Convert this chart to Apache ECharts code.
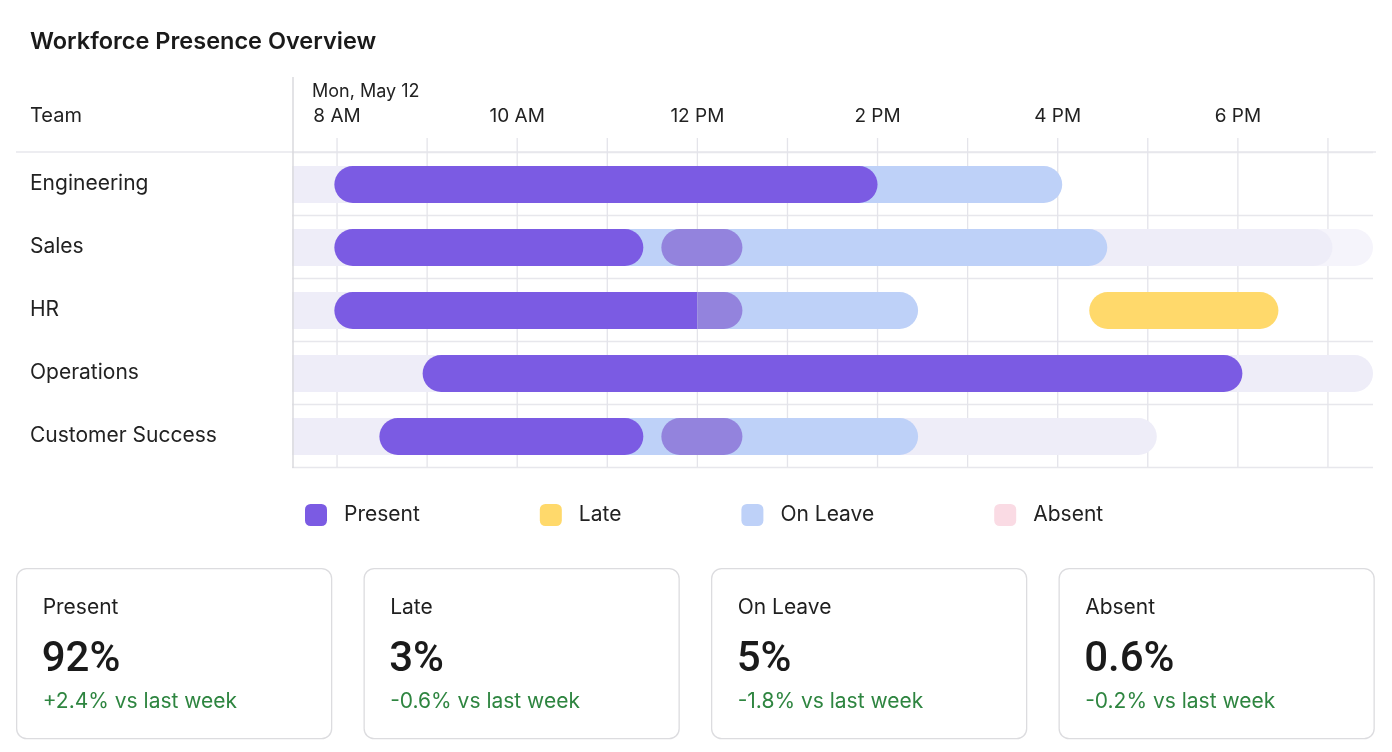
<!DOCTYPE html>
<html>
<head>
<meta charset="utf-8">
<title>Workforce Presence Overview</title>
<script src="https://cdn.jsdelivr.net/npm/echarts@6.0.0/dist/echarts.min.js"></script>
<style>
	html, body { margin: 0; padding: 0; background: #fff; }
	#main { width: 1392px; height: 752px; }
</style>
</head>
<body>
<div id="main"></div>
<script>
//团队与时间轴
var teams = ['Engineering', 'Sales', 'HR', 'Operations', 'Customer Success'];
var tickHours = [8, 10, 12, 14, 16, 18];
var tickLabels = ['8 AM', '10 AM', '12 PM', '2 PM', '4 PM', '6 PM'];
var gridHours = [8, 9, 10, 11, 12, 13, 14, 15, 16, 17, 18, 19];
var dayLabel = 'Mon, May 12';

//每条记录: [团队序号, 开始(小时), 结束(小时)]
var scheduleTail = [[1, 7.5, 19.5]];
var scheduled = [[0, 7.5, 12], [1, 7.5, 19.05], [2, 7.5, 12], [3, 7.5, 19.5], [4, 7.5, 17.1]];
var onLeave = [[0, 13, 16.05], [1, 11, 16.55], [2, 12, 14.45], [4, 11, 14.45]];
var late = [[2, 16.35, 18.45]];
var present = [[0, 7.97, 14], [1, 7.97, 11.4], [2, 7.97, 12], [3, 8.95, 18.05], [4, 8.47, 11.4]];
var overlap = [[1, 11.6, 12.5], [2, 12, 12.5], [4, 11.6, 12.5]];
var absent = [];

//底部统计卡片
var cardTitles = ['Present', 'Late', 'On Leave', 'Absent'];
var cardValues = ['92%', '3%', '5%', '0.6%'];
var cardDeltas = ['+2.4% vs last week', '-0.6% vs last week', '-1.8% vs last week', '-0.2% vs last week'];

var FONT = 'Inter, Roboto, sans-serif';
var colors = {
	present: '#7b5be3',
	late: '#ffd96b',
	leave: '#bed1f8',
	absent: '#fadbe4',
	overlap: '#9383dd',
	track: '#eeedf8',
	tail: '#f5f4fb'
};

//判断同一行里是否有相接的段
function touches(list, row, x, idx) {
	for (var i = 0; i < list.length; i++) {
		if (list[i][0] === row && Math.abs(list[i][idx] - x) < 0.001) return true;
	}
	return false;
}

//胶囊形条带
function pill(color, flatLeft, flatRight) {
	return function (params, api) {
		var row = api.value(0), s = api.value(1), e = api.value(2);
		var p0 = api.coord([s, row]), p1 = api.coord([e, row]);
		var h = 37, r = h / 2;
		var fl = flatLeft ? flatLeft(row, s) : false;
		var fr = flatRight ? flatRight(row, e) : false;
		return {
			type: 'rect',
			shape: {
				x: p0[0], y: p0[1] - h / 2 + 1, width: p1[0] - p0[0], height: h,
				r: [fl ? 0 : r, fr ? 0 : r, fr ? 0 : r, fl ? 0 : r]
			},
			style: { fill: color }
		};
	};
}

function always() { return true; }

var cardGraphics = [];
for (var i = 0; i < cardTitles.length; i++) {
	var cx = 16 + i * 347.5;
	cardGraphics.push({
		type: 'group', left: cx, top: 568,
		children: [
			{ type: 'rect', shape: { x: 0, y: 0, width: 315, height: 170, r: 10 }, style: { fill: '#fff', stroke: '#dcdcdf', lineWidth: 1.3 } },
			{ type: 'text', x: 26, y: 39, style: { text: cardTitles[i], font: '400 21px ' + FONT, fill: '#1f1f1f', verticalAlign: 'middle' } },
			{ type: 'text', x: 25, y: 92, style: { text: cardValues[i], font: '500 42px Roboto, sans-serif', fill: '#1a1a1a', verticalAlign: 'middle' } },
			{ type: 'text', x: 26, y: 133, style: { text: cardDeltas[i], font: '400 21px ' + FONT, fill: '#2e8540', verticalAlign: 'middle' } }
		]
	});
}

var myChart = echarts.init(document.getElementById('main'));
var option = {
	animation: false,
	textStyle: { fontFamily: FONT },
	title: {
		text: 'Workforce Presence Overview',
		left: 25, top: 25,
		textStyle: { fontSize: 23.5, fontWeight: 600, color: '#1a1a1a', fontFamily: FONT }
	},
	legend: {
		left: 300, top: 499,
		itemWidth: 22, itemHeight: 22, itemGap: 120,
		textStyle: { fontSize: 21, color: '#222', padding: [0, 0, 0, 12], fontFamily: FONT },
		data: [
			{ name: 'Present', icon: 'roundRect' },
			{ name: 'Late', icon: 'roundRect' },
			{ name: 'On Leave', icon: 'roundRect' },
			{ name: 'Absent', icon: 'roundRect' }
		]
	},
	grid: { left: 292, right: 19, top: 152, height: 315 },
	xAxis: {
		type: 'value', position: 'top',
		min: 7.5, max: 19.5,
		axisLine: { show: false }, axisTick: { show: false }, splitLine: { show: false },
		axisLabel: {
			customValues: tickHours,
			margin: 26, fontSize: 19, color: '#222',
			formatter: function (v) { return tickLabels[tickHours.indexOf(v)] || ''; }
		}
	},
	yAxis: {
		type: 'category', inverse: true, data: teams,
		axisLine: { show: false }, axisTick: { show: false },
		splitLine: { show: true, lineStyle: { color: '#e7e7ec', width: 1.3 } },
		axisLabel: { align: 'left', margin: 262, fontSize: 21, color: '#222', padding: [3, 0, 0, 0] }
	},
	graphic: [
		{ type: 'text', left: 30, top: 106, style: { text: 'Team', font: '400 20px ' + FONT, fill: '#222' } },
		{ type: 'text', left: 312, top: 83, style: { text: dayLabel, font: '400 18px ' + FONT, fill: '#222' } },
		{ type: 'line', shape: { x1: 16, y1: 152, x2: 1376, y2: 152 }, style: { stroke: '#e7e7ec', lineWidth: 1.5 } },
		{ type: 'line', shape: { x1: 293, y1: 77, x2: 293, y2: 468 }, style: { stroke: '#dadade', lineWidth: 1.5 }, z: 10 }
	].concat(cardGraphics),
	series: [
		{
			//每小时竖线
			name: 'hours', type: 'custom', silent: true, z: 1,
			data: gridHours,
			renderItem: function (params, api) {
				var x = api.coord([api.value(0), 0])[0];
				var cs = params.coordSys;
				return {
					type: 'line',
					shape: { x1: x, y1: cs.y - 14, x2: x, y2: cs.y + cs.height },
					style: { stroke: '#e4e4ea', lineWidth: 1.3 }
				};
			}
		},
		{
			name: 'Tail', type: 'custom', z: 2, encode: { x: [1, 2], y: 0 },
			data: scheduleTail, renderItem: pill(colors.tail, always, null)
		},
		{
			name: 'Scheduled', type: 'custom', z: 2, encode: { x: [1, 2], y: 0 },
			data: scheduled, renderItem: pill(colors.track, always, null)
		},
		{
			name: 'On Leave', type: 'custom', z: 3, encode: { x: [1, 2], y: 0 },
			itemStyle: { color: colors.leave },
			data: onLeave, renderItem: pill(colors.leave, null, null)
		},
		{
			name: 'Late', type: 'custom', z: 3, encode: { x: [1, 2], y: 0 },
			itemStyle: { color: colors.late },
			data: late, renderItem: pill(colors.late, null, null)
		},
		{
			name: 'Present', type: 'custom', z: 4, encode: { x: [1, 2], y: 0 },
			itemStyle: { color: colors.present },
			data: present,
			renderItem: pill(colors.present, null, function (row, e) { return touches(overlap, row, e, 1); })
		},
		{
			name: 'Overlap', type: 'custom', z: 5, encode: { x: [1, 2], y: 0 },
			data: overlap,
			renderItem: pill(colors.overlap, function (row, s) { return touches(present, row, s, 2); }, null)
		},
		{
			name: 'Absent', type: 'custom', encode: { x: [1, 2], y: 0 },
			itemStyle: { color: colors.absent },
			data: absent, renderItem: pill(colors.absent, null, null)
		}
	]
};

myChart.setOption(option);
window.onresize = myChart.resize;
</script>
</body>
</html>
